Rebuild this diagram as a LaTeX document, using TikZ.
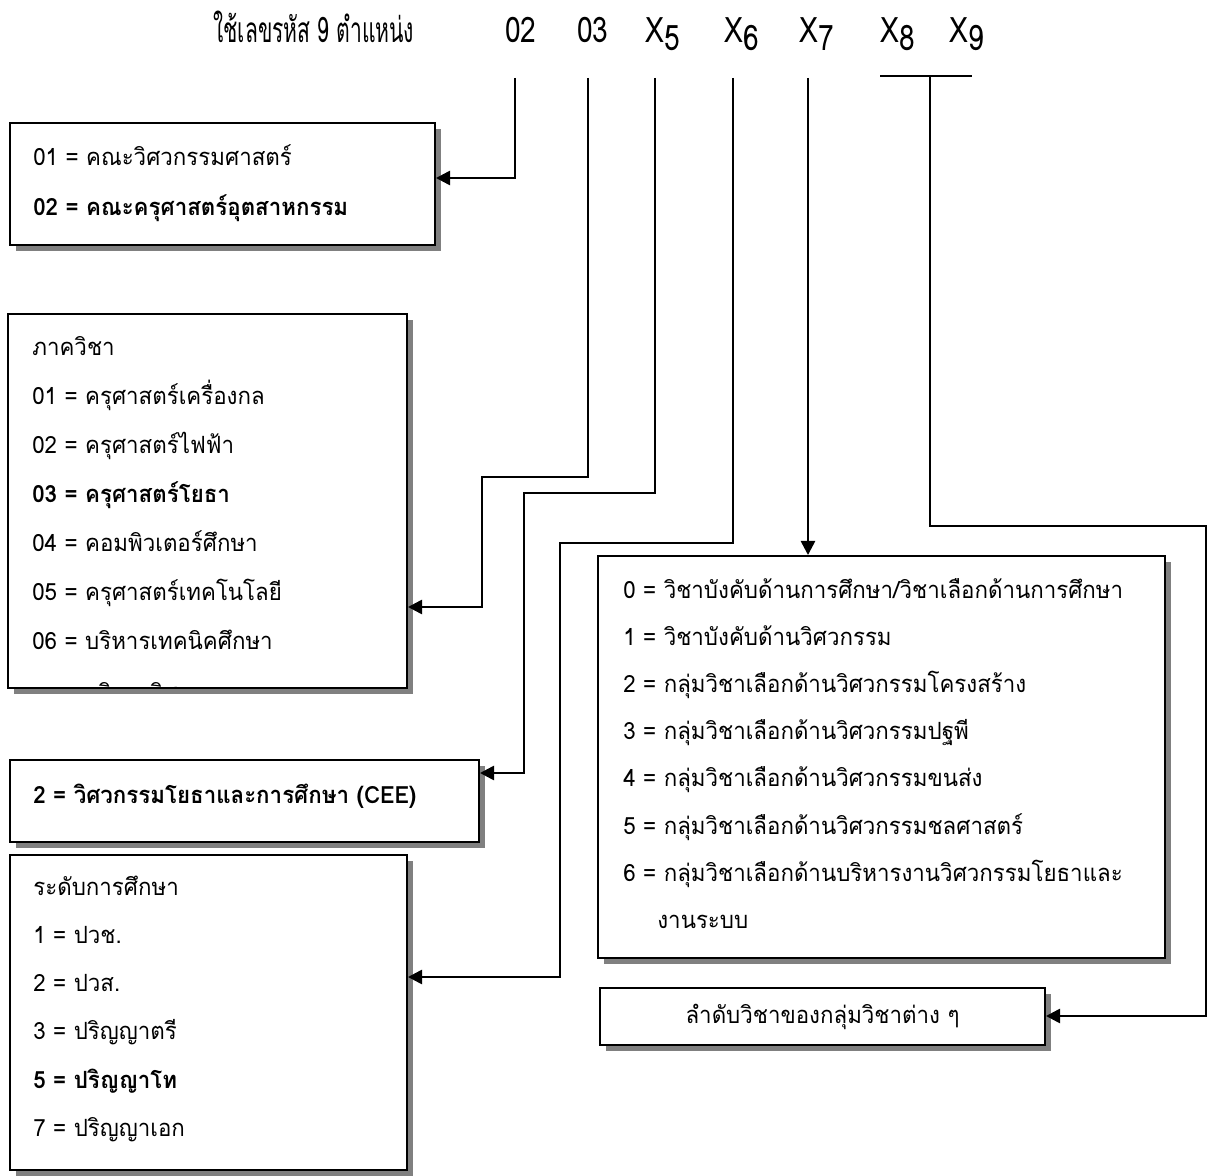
\documentclass[tikz,border=0pt]{standalone}
\usepackage{fontspec}
\setmainfont[Script=Thai,FakeStretch=0.94]{Loma}
\newfontfamily\hdfont[Script=Thai,FakeStretch=0.8]{Loma}
\newfontfamily\hdthai[Script=Thai,FakeStretch=0.6]{Loma}
\usetikzlibrary{arrows.meta,shadows,fit}
\begin{document}
\begin{tikzpicture}[x=0.02cm,y=-0.02cm,
  box/.style={draw, line width=1.1pt, fill=white, inner sep=0pt,
    general shadow={fill=black!50, shadow xshift=3.4pt, shadow yshift=-3.4pt}},
  txt/.style={anchor=base west, inner sep=0pt, font=\fontsize{13.5}{16}\selectfont},
  btxt/.style={txt, font=\fontsize{13.5}{16}\selectfont\bfseries},
  hd/.style={anchor=base west, inner sep=0pt, font=\hdfont\fontsize{20}{24}\selectfont},
  hdt/.style={anchor=base west, inner sep=0pt, font=\hdthai\fontsize{20}{24}\selectfont},
  wire/.style={line width=1.4pt},
  conn/.style={line width=1.4pt, -{Triangle[length=8pt,width=8pt]}}]
\useasboundingbox (0,0) rectangle (1208,1176);

% header
\node[hdt] (hlabel) at (213,43) {ใช้เลขรหัส 9 ตำแหน่ง};
\node[hd] (h02) at (505,43) {02};
\node[hd] (h03) at (577,43) {03};
\node[hd] (hx5) at (645,43) {X\raisebox{-0.16cm}{5}};
\node[hd] (hx6) at (724,43) {X\raisebox{-0.16cm}{6}};
\node[hd] (hx7) at (799,43) {X\raisebox{-0.16cm}{7}};
\node[hd] (hx8) at (880,43) {X\raisebox{-0.16cm}{8}};
\node[hd] (hx9) at (949,43) {X\raisebox{-0.16cm}{9}};

\coordinate (s02) at (515,78);
\coordinate (s03) at (588,78);
\coordinate (s05) at (655,78);
\coordinate (s06) at (733,78);
\coordinate (s07) at (808,78);
\coordinate (s89) at (930,76);
\coordinate (barL) at (880,76);
\coordinate (barR) at (972,76);

% boxes
\node[box, fit={(10,123)(435,245)}] (b1) {};
\node[box, fit={(8,314)(407,688)}] (b2) {};
\node[box, fit={(10,760)(479,842)}] (b3) {};
\node[box, fit={(10,855)(407,1170)}] (b4) {};
\node[box, fit={(598,556)(1165,958)}] (b5) {};
\node[box, fit={(600,988)(1045,1045)}] (b6) {};

% box 1
\node[txt] (t11) at (33,166) {01 = คณะวิศวกรรมศาสตร์};
\node[btxt] (t12) at (33,215) {02 = คณะครุศาสตร์อุตสาหกรรม};

% box 2
\node[txt] (t20) at (32,355) {ภาควิชา};
\node[txt] (t21) at (32,404) {01 = ครุศาสตร์เครื่องกล};
\node[txt] (t22) at (32,453) {02 = ครุศาสตร์ไฟฟ้า};
\node[btxt] (t23) at (32,502) {03 = ครุศาสตร์โยธา};
\node[txt] (t24) at (32,551) {04 = คอมพิวเตอร์ศึกษา};
\node[txt] (t25) at (32,600) {05 = ครุศาสตร์เทคโนโลยี};
\node[txt] (t26) at (32,649) {06 = บริหารเทคนิคศึกษา};
\begin{scope}
\clip (78,315) rectangle (406,686);
\node[txt] (t27) at (32,701) {07 = บริหารวิศวกรรม};
\end{scope}

% box 3
\node[btxt] (t31) at (33,803) {2 = วิศวกรรมโยธาและการศึกษา (CEE)};

% box 4
\node[txt] (t40) at (33,895) {ระดับการศึกษา};
\node[txt] (t41) at (33,943) {1 = ปวช.};
\node[txt] (t42) at (33,991) {2 = ปวส.};
\node[txt] (t43) at (33,1039) {3 = ปริญญาตรี};
\node[btxt] (t45) at (33,1088) {5 = ปริญญาโท};
\node[txt] (t47) at (33,1136) {7 = ปริญญาเอก};

% box 5
\node[txt] (t50) at (623,598) {0 = วิชาบังคับด้านการศึกษา/วิชาเลือกด้านการศึกษา};
\node[txt] (t51) at (623,645) {1 = วิชาบังคับด้านวิศวกรรม};
\node[txt] (t52) at (623,692) {2 = กลุ่มวิชาเลือกด้านวิศวกรรมโครงสร้าง};
\node[txt] (t53) at (623,739) {3 = กลุ่มวิชาเลือกด้านวิศวกรรมปฐพี};
\node[txt] (t54) at (623,786) {4 = กลุ่มวิชาเลือกด้านวิศวกรรมขนส่ง};
\node[txt] (t55) at (623,834) {5 = กลุ่มวิชาเลือกด้านวิศวกรรมชลศาสตร์};
\node[txt] (t56) at (623,881) {6 = กลุ่มวิชาเลือกด้านบริหารงานวิศวกรรมโยธาและ};
\node[txt] (t57) at (657,928) {งานระบบ};

% box 6
\node[inner sep=0pt, font=\fontsize{13.5}{16}\selectfont] (t6) at (b6.center) {ลำดับวิชาของกลุ่มวิชาต่าง ๆ};

% connectors
\draw[conn] (s02) |- (b1.east |- 0,178);
\draw[conn] (s03) |- (482,477) |- (b2.east |- 0,607);
\draw[conn] (s05) |- (524,493) |- (b3.east |- 0,773);
\draw[conn] (s06) |- (560,543) |- (b4.east |- 0,977);
\draw[conn] (s07) -- (b5.north -| s07);
\draw[wire] (barL) -- (barR);
\draw[conn] (s89) |- (1206,526) |- (b6.east |- 0,1016);
\end{tikzpicture}
\end{document}
